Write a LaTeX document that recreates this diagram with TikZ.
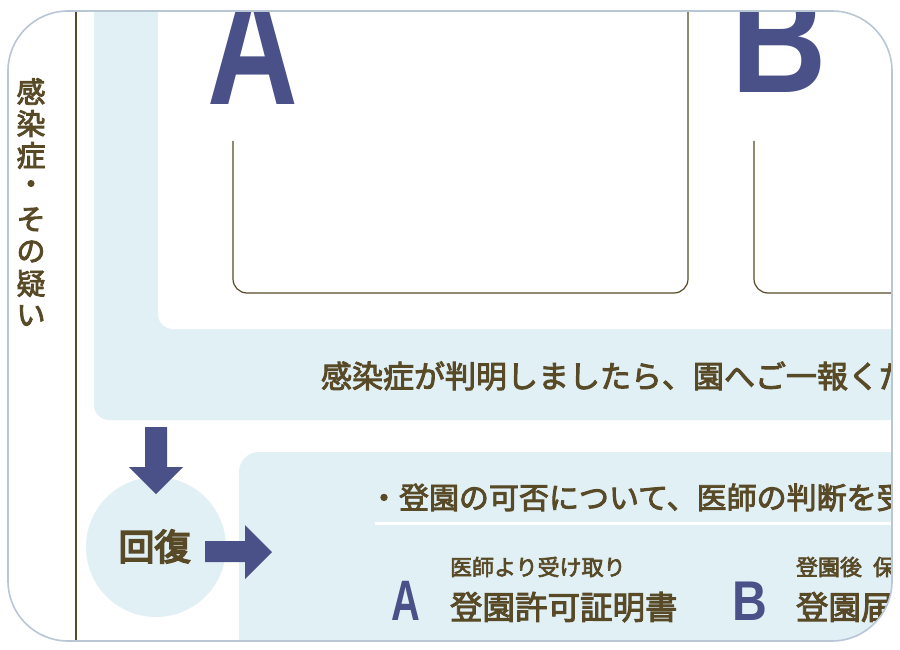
\documentclass[tikz,border=0pt]{standalone}
\usepackage{fontspec}
\newfontfamily\jp{Noto Sans CJK JP}[FakeBold=3]
\newfontfamily\jpb{Noto Sans CJK JP}[FakeBold=5]
\newfontfamily\lat{Liberation Sans}
\definecolor{lb}{HTML}{E1F0F4}
\definecolor{blu}{HTML}{4A5088}
\definecolor{brn}{HTML}{584A27}
\definecolor{frm}{HTML}{B9C6D6}
\tikzset{
  jptext/.style={inner sep=0pt, outer sep=0pt, text=brn},
  bigletter/.style={inner sep=0pt, outer sep=0pt, text=blu, anchor=base},
  blockarrow/.style={fill=blu, draw=none},
  openbox/.style={draw=brn, line width=1.2pt, rounded corners=14pt},
}
\newcommand{\jpf}[1]{\jp\fontsize{#1}{#1}\selectfont}
\newcommand{\jpbf}[1]{\jpb\fontsize{#1}{#1}\selectfont}
\newcommand{\latf}[1]{\lat\bfseries\fontsize{#1}{#1}\selectfont}
\begin{document}
\begin{tikzpicture}[x=1pt,y=-1pt]
\useasboundingbox (0,0) rectangle (900,650);
\fill[white] (0,0) rectangle (900,650);
\begin{scope}
\clip[rounded corners=60pt] (8,11) rectangle (892,641);
% upper light-blue L region with white inset
\fill[lb, rounded corners=15pt] (94,-30) rectangle (960,420);
\fill[white, rounded corners=15pt] (158,-30) rectangle (960,329);
% open boxes
\draw[openbox] (233,141) -- (233,293) -- (688,293) -- (688,-20);
\draw[openbox] (754,141) -- (754,293) -- (960,293);
% big letters
\node[bigletter, font=\latf{167.6}] (bigA) at (253,105) {\scalebox{0.75}[1]{A}};
\node[bigletter, font=\latf{153.6}] (bigB) at (779,93) {\scalebox{0.86}[1]{B}};
% report text
\node[jptext, anchor=west, font=\jpf{31}] (report) at (321,376) {感染症が判明しましたら、園へご一報くだ};
% recovery circle
\node[circle, fill=lb, minimum size=140pt, inner sep=0pt] (kaifuku) at (156,547) {};
\node[jptext, font=\jpbf{36}] (kaifukut) at (154.5,546.5) {回復};
% lower box
\fill[lb, rounded corners=20pt] (239,452) rectangle (960,700);
\node[jptext, anchor=west, font=\jpf{30}] (judge) at (369,497.5) {・登園の可否について、医師の判断を受};
\draw[white, line width=3pt] (375,523) -- (960,523);
\node[bigletter, font=\latf{57}] (smallA) at (406,620) {\scalebox{0.7}[1]{A}};
\node[jptext, anchor=west, font=\jpf{22}] (subA) at (450,567) {医師より受け取り};
\node[jptext, anchor=west, font=\jpf{32.5}] (docA) at (450,607) {登園許可証明書};
\node[bigletter, font=\latf{56}] (smallB) at (750,620) {\scalebox{0.86}[1]{B}};
\node[jptext, anchor=west, font=\jpf{22}] (subB) at (796,567) {登園後\hspace{0.5em}保};
\node[jptext, anchor=west, font=\jpf{32.5}] (docB) at (796,607) {登園届};
% block arrows
\fill[blockarrow] (145,427) -- (167,427) -- (167,467) -- (183,467) -- (156,494) -- (129,467) -- (145,467) -- cycle;
\fill[blockarrow] (205,541) -- (245,541) -- (245,525) -- (272,552) -- (245,579) -- (245,562) -- (205,562) -- cycle;
\end{scope}
% vertical divider
\draw[brn, line width=1.6pt] (76,11) -- (76,641);
% vertical label
\foreach \c [count=\i from 0] in {感,染,症,・,そ,の,疑,い}{
  \node[jptext, font=\jpf{29}] (v\i) at (31,{91.5+32*\i}) {\c};
}
% outer frame
\draw[frm, line width=1.6pt, rounded corners=60pt] (8,11) rectangle (892,641);
\end{tikzpicture}
\end{document}
